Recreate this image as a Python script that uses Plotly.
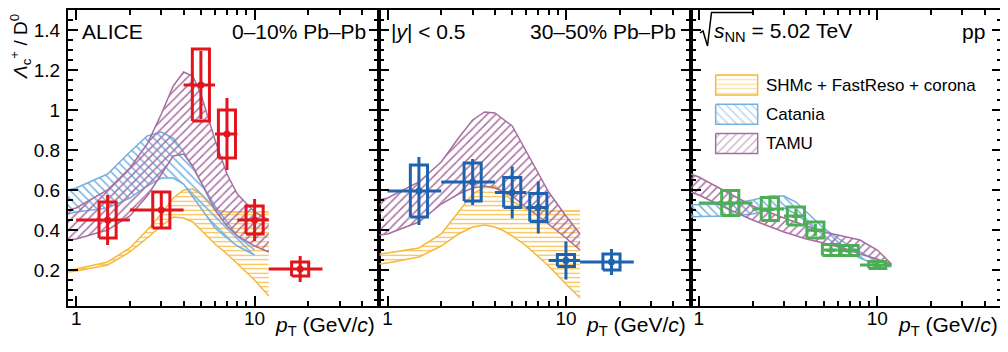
import numpy as np
import plotly.graph_objects as go

# ---------------- data ----------------
# ALICE Lambda_c+/D0, 0-10% Pb-Pb
c010_pt = [1.5, 3, 5, 7, 10, 18]
c010_lo = [1, 2, 4, 6, 8, 12]
c010_hi = [2, 4, 6, 8, 12, 24]
c010_val = [0.45, 0.50, 1.125, 0.88, 0.45, 0.205]
c010_stat = [0.125, 0.09, 0.17, 0.18, 0.105, 0.065]
c010_syst = [0.09, 0.09, 0.18, 0.12, 0.07, 0.035]

# 30-50% Pb-Pb
c3050_pt = [1.5, 3, 5, 7, 10, 18]
c3050_lo = [1, 2, 4, 6, 8, 12]
c3050_hi = [2, 4, 6, 8, 12, 24]
c3050_val = [0.595, 0.64, 0.587, 0.513, 0.247, 0.24]
c3050_stat = [0.17, 0.115, 0.13, 0.13, 0.095, 0.065]
c3050_syst = [0.13, 0.095, 0.075, 0.07, 0.03, 0.04]

# pp
pp_pt = [1.5, 2.5, 3.5, 4.5, 5.5, 7, 10]
pp_lo = [1, 2, 3, 4, 5, 6, 8]
pp_hi = [2, 3, 4, 5, 6, 8, 12]
pp_val = [0.535, 0.505, 0.47, 0.40, 0.30, 0.297, 0.225]
pp_stat = [0.07, 0.05, 0.035, 0.03, 0.02, 0.02, 0.015]
pp_syst = [0.063, 0.058, 0.045, 0.04, 0.028, 0.025, 0.018]

# model bands, 0-10%
shm010_x = [0.9, 1, 1.5, 2, 2.5, 3, 3.5, 4, 4.5, 5, 6, 7, 8, 10, 12]
shm010_up = [0.20, 0.205, 0.24, 0.31, 0.40, 0.48, 0.56, 0.60, 0.605, 0.58, 0.50, 0.49, 0.49, 0.49, 0.49]
shm010_dn = [0.19, 0.195, 0.225, 0.29, 0.36, 0.42, 0.465, 0.46, 0.44, 0.40, 0.33, 0.28, 0.23, 0.15, 0.07]
cat010_x = [0.9, 1, 1.5, 2, 2.5, 3, 3.5, 4, 5, 6, 7, 8, 10]
cat010_up = [0.60, 0.61, 0.68, 0.79, 0.87, 0.89, 0.86, 0.79, 0.64, 0.52, 0.44, 0.37, 0.30]
cat010_dn = [0.48, 0.49, 0.51, 0.56, 0.62, 0.66, 0.66, 0.63, 0.51, 0.41, 0.36, 0.32, 0.275]
tamu010_x = [0.9, 1, 1.5, 2, 2.5, 3, 3.5, 4, 4.5, 5, 6, 7, 8, 10, 12]
tamu010_up = [0.50, 0.51, 0.60, 0.71, 0.83, 0.98, 1.12, 1.19, 1.17, 1.08, 0.85, 0.68, 0.58, 0.49, 0.45]
tamu010_dn = [0.35, 0.355, 0.40, 0.47, 0.57, 0.68, 0.77, 0.78, 0.72, 0.64, 0.50, 0.42, 0.37, 0.32, 0.29]

# model bands, 30-50%
shm3050_x = [0.9, 1, 1.5, 2, 2.5, 3, 3.5, 4, 4.5, 5, 6, 8, 10, 12]
shm3050_up = [0.28, 0.285, 0.31, 0.38, 0.49, 0.58, 0.615, 0.62, 0.59, 0.545, 0.50, 0.495, 0.495, 0.495]
shm3050_dn = [0.23, 0.235, 0.265, 0.32, 0.38, 0.415, 0.425, 0.415, 0.395, 0.37, 0.32, 0.22, 0.13, 0.06]
tamu3050_x = [0.9, 1, 1.5, 2, 2.5, 3, 3.5, 4, 5, 6, 7, 8, 10, 12]
tamu3050_up = [0.55, 0.56, 0.64, 0.74, 0.86, 0.95, 0.99, 0.985, 0.92, 0.79, 0.68, 0.59, 0.47, 0.38]
tamu3050_dn = [0.375, 0.38, 0.44, 0.53, 0.58, 0.61, 0.62, 0.61, 0.57, 0.51, 0.47, 0.43, 0.36, 0.30]

# model bands, pp
catpp_x = [0.9, 1, 1.5, 2, 2.5, 3, 3.5, 4, 5, 6, 7, 8, 10, 12]
catpp_up = [0.525, 0.527, 0.53, 0.55, 0.57, 0.57, 0.54, 0.49, 0.41, 0.36, 0.32, 0.29, 0.245, 0.225]
catpp_dn = [0.465, 0.468, 0.47, 0.48, 0.50, 0.51, 0.48, 0.44, 0.37, 0.32, 0.285, 0.26, 0.225, 0.215]
tamupp_x = [0.9, 1, 1.5, 2, 3, 4, 5, 6, 7, 8, 10, 12]
tamupp_up = [0.68, 0.665, 0.58, 0.52, 0.46, 0.42, 0.39, 0.375, 0.36, 0.35, 0.30, 0.23]
tamupp_dn = [0.59, 0.575, 0.50, 0.45, 0.39, 0.355, 0.335, 0.315, 0.30, 0.28, 0.255, 0.225]

model_names = ["SHMc + FastReso + corona", "Catania", "TAMU"]

# ---------------- style ----------------
ORANGE = "#f6b93b"
BLUE = "#76b0e0"
PURPLE = "#a86ea2"
RED = "#e2141c"
DBLUE = "#1f63ad"
GREEN = "#4cae55"
FONT = "Liberation Sans, Arial, sans-serif"

# the page body adds an 8 px offset, so the figure is drawn 8 px smaller
OFF = 8
W, H = 1008 - OFF, 352 - OFF
ML, MR, MT, MB = 68 - OFF, 6, 10 - OFF, 46
PW = W - ML - MR
PH = H - MT - MB
XR = [np.log10(0.9), np.log10(50)]
BOX_HW = 10 ** 0.048


def px(x):
    # screen x -> paper x
    return (x - OFF - ML) / PW


def py(y):
    # screen y -> paper y
    return 1 - (y - OFF - MT) / PH


fig = go.Figure()


def axes(col):
    return dict(xaxis="x" if col == 1 else "x%d" % col, yaxis="y" if col == 1 else "y%d" % col)


def band(col, x, up, dn, color, shape, size):
    fig.add_trace(go.Scatter(x=x, y=dn, mode="lines", line=dict(color=color, width=1.5),
                             showlegend=False, hoverinfo="skip", **axes(col)))
    fig.add_trace(go.Scatter(x=x, y=up, mode="lines", line=dict(color=color, width=1.5),
                             fill="tonexty", fillcolor=color,
                             fillpattern=dict(shape=shape, fgcolor=color, bgcolor="rgba(0,0,0,0)",
                                              size=size, solidity=0.25, fillmode="replace"),
                             showlegend=False, hoverinfo="skip", **axes(col)))


def points(col, pt, lo, hi, val, stat, syst, color, symbol, msize):
    bx, by = [], []
    for p, v, s in zip(pt, val, syst):
        a, b = p / BOX_HW, p * BOX_HW
        bx += [a, b, b, a, a, None]
        by += [v - s, v - s, v + s, v + s, v - s, None]
    fig.add_trace(go.Scatter(x=bx, y=by, mode="lines", line=dict(color=color, width=3),
                             showlegend=False, hoverinfo="skip", **axes(col)))
    fig.add_trace(go.Scatter(
        x=pt, y=val, mode="markers",
        marker=dict(symbol=symbol, size=msize, color=color),
        error_x=dict(type="data", symmetric=False,
                     array=[h - p for h, p in zip(hi, pt)],
                     arrayminus=[p - l for p, l in zip(pt, lo)],
                     thickness=3, width=0, color=color),
        error_y=dict(type="data", array=stat, thickness=3, width=0, color=color),
        showlegend=False, **axes(col)))


band(1, shm010_x, shm010_up, shm010_dn, ORANGE, "-", 4.5)
band(1, cat010_x, cat010_up, cat010_dn, BLUE, "\\", 6)
band(1, tamu010_x, tamu010_up, tamu010_dn, PURPLE, "/", 6)
points(1, c010_pt, c010_lo, c010_hi, c010_val, c010_stat, c010_syst, RED, "circle", 7)

band(2, shm3050_x, shm3050_up, shm3050_dn, ORANGE, "-", 4.5)
band(2, tamu3050_x, tamu3050_up, tamu3050_dn, PURPLE, "/", 6)
points(2, c3050_pt, c3050_lo, c3050_hi, c3050_val, c3050_stat, c3050_syst, DBLUE, "circle", 7)

band(3, catpp_x, catpp_up, catpp_dn, BLUE, "\\", 6)
band(3, tamupp_x, tamupp_up, tamupp_dn, PURPLE, "/", 6)
points(3, pp_pt, pp_lo, pp_hi, pp_val, pp_stat, pp_syst, GREEN, "triangle-up", 8)

# legend keys, drawn on an overlay axis (pixel units inside panel 3)
leg_colors = [ORANGE, BLUE, PURPLE]
leg_shapes = ["-", "\\", "/"]
leg_sizes = [4.5, 6, 6]
for i, (name, c, s, sz) in enumerate(zip(model_names, leg_colors, leg_shapes, leg_sizes)):
    y0 = 65 + i * 29.3
    fig.add_trace(go.Scatter(
        x=[25, 67, 67, 25, 25], y=[y0, y0, y0 + 20, y0 + 20, y0], mode="lines",
        line=dict(color=c, width=1.5), fill="toself", fillcolor=c,
        fillpattern=dict(shape=s, fgcolor=c, bgcolor="rgba(0,0,0,0)", size=sz, solidity=0.25),
        xaxis="x4", yaxis="y4", showlegend=False, hoverinfo="skip"))
    fig.add_annotation(xref="paper", yref="paper", x=px(690 + 74), y=py(10 + y0 + 10),
                       text=name, showarrow=False, xanchor="left", yanchor="middle",
                       font=dict(size=17, color="black", family=FONT))

axis_common = dict(showline=True, linewidth=2, linecolor="black", mirror="allticks", automargin=False,
                   ticks="inside", tickwidth=1.5, tickcolor="black", showgrid=False, zeroline=False,
                   tickfont=dict(size=19, color="black", family=FONT))
layout = dict(width=W, height=H, margin=dict(l=ML, r=MR, t=MT, b=MB, autoexpand=False),
              plot_bgcolor="white", paper_bgcolor="white", showlegend=False)
for i in range(1, 4):
    sx = "" if i == 1 else str(i)
    layout["xaxis" + sx] = dict(axis_common, domain=[(i - 1) / 3, i / 3], type="log", range=XR,
                                tickmode="array", tickvals=[1, 10], ticktext=["1", "10"], ticklen=10,
                                ticklabelstandoff=-6,
                                minor=dict(tickmode="array", tickvals=[2, 3, 4, 5, 6, 7, 8, 9, 20, 30, 40, 50],
                                           ticks="inside", ticklen=5, tickwidth=1.5, tickcolor="black"),
                                anchor="y" + sx)
    layout["yaxis" + sx] = dict(axis_common, domain=[0, 1], range=[0.02, 1.5], tick0=0, dtick=0.2,
                                ticklen=10, showticklabels=(i == 1), ticklabelstandoff=2,
                                minor=dict(dtick=0.05, tick0=0, ticks="inside", ticklen=5,
                                           tickwidth=1.5, tickcolor="black"),
                                anchor="x" + sx)
layout["xaxis4"] = dict(overlaying="x3", range=[0, PW / 3], visible=False, anchor="y4")
layout["yaxis4"] = dict(overlaying="y3", range=[PH, 0], visible=False, anchor="x4")
fig.update_layout(**layout)

txt = dict(size=18, color="black", family=FONT)


def label(x, y, text, anchor, size=18):
    fig.add_annotation(xref="paper", yref="paper", x=px(x), y=py(y), text=text, showarrow=False,
                       xanchor=anchor, yanchor="middle", font=dict(txt, size=size))


label(80, 31, "ALICE", "left", 21)
label(368, 31, "0\u201310% Pb\u2013Pb", "right", 21)
label(389, 31, "|<i>y</i>| < 0.5", "left", 21)
label(678, 31, "30\u201350% Pb\u2013Pb", "right", 21)
label(712, 32, "<i>s</i><sub>NN</sub> = 5.02 TeV", "left", 21)
label(987, 31, "pp", "right", 21)
for xr in [377, 688, 1000]:
    label(xr, 326, "<i>p</i><sub>T</sub> (GeV/<i>c</i>)", "right", 21)

# square-root sign drawn as a path
fig.add_shape(type="path", xref="paper", yref="paper",
              path="M %f %f L %f %f L %f %f L %f %f L %f %f" % (
                  px(700), py(33), px(703), py(31), px(707.5), py(46), px(711.5), py(12.5), px(752), py(12.5)),
              line=dict(color="black", width=1.5))

fig.add_annotation(xref="paper", yref="paper", x=px(20), y=py(47), textangle=-90,
                   text="<i>\u039b</i><sub>c</sub><sup>+</sup> / D<sup>0</sup>", showarrow=False,
                   xanchor="center", yanchor="middle", font=dict(txt, size=19))

fig.write_html("out.html")
